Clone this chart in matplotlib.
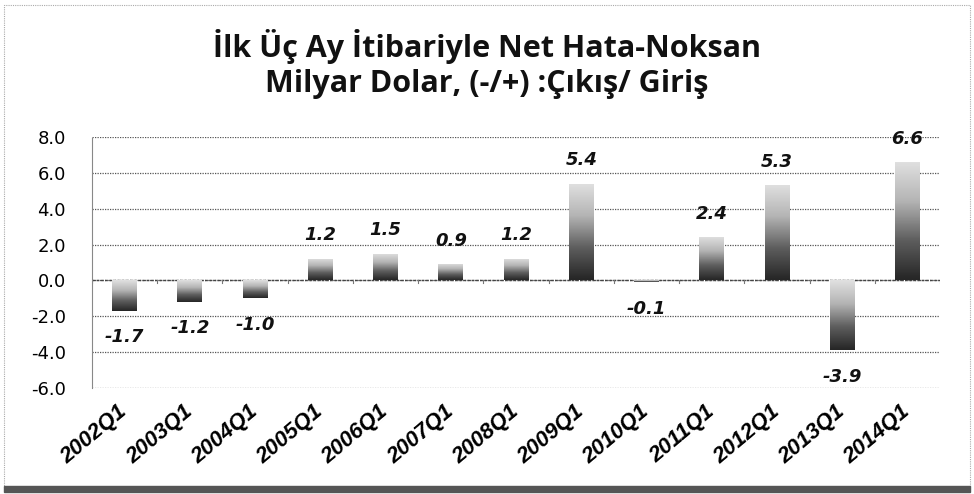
import numpy as np
import matplotlib.pyplot as plt
from matplotlib.colors import LinearSegmentedColormap

quarters = ["2002Q1", "2003Q1", "2004Q1", "2005Q1", "2006Q1", "2007Q1", "2008Q1",
            "2009Q1", "2010Q1", "2011Q1", "2012Q1", "2013Q1", "2014Q1"]
net_errors = [-1.7, -1.2, -1.0, 1.2, 1.5, 0.9, 1.2, 5.4, -0.1, 2.4, 5.3, -3.9, 6.6]
yticks = [8.0, 6.0, 4.0, 2.0, 0.0, -2.0, -4.0, -6.0]

title = "İlk Üç Ay İtibariyle Net Hata-Noksan\nMilyar Dolar, (-/+) :Çıkış/ Giriş"

fig = plt.figure(figsize=(9.74, 4.94), dpi=100)
ax = fig.add_axes([0.0945, 0.2146, 0.8706, 0.508])

x = np.arange(len(quarters))
bars = ax.bar(x, net_errors, width=0.38, color="none", edgecolor="none", zorder=3)

# grey vertical gradient inside each bar: dark at the lower end, light at the top
cmap = LinearSegmentedColormap.from_list("scan", ["#262626", "#5e5e5e", "#b4b4b4", "#e0e0e0"])
grad = np.linspace(0, 1, 100).reshape(-1, 1)
for b in bars:
    x0, y0 = b.get_x(), b.get_y()
    w, h = b.get_width(), b.get_height()
    lo, hi = min(y0, y0 + h), max(y0, y0 + h)
    im = ax.imshow(grad, cmap=cmap, aspect="auto", origin="lower",
                   extent=(x0, x0 + w, lo, hi), zorder=3)
    im.set_clip_path(b)

for xi, v in zip(x, net_errors):
    off = 17 if v >= 0 else -19
    ax.annotate(f"{v:.1f}", (xi, v), xytext=(0, off), textcoords="offset points",
                ha="center", va="center", fontsize=13, fontweight="bold",
                fontstyle="oblique", family="DejaVu Sans", color="#111111", zorder=4)

ax.set_xlim(-0.5, len(quarters) - 0.5)
ax.set_ylim(-6.0, 8.0)
ax.set_yticks(yticks)
ax.set_yticklabels([f"{t:.1f}" for t in yticks], fontsize=13, family="DejaVu Sans")
ax.set_xticks(x)
ax.set_xticklabels(quarters, rotation=40, ha="right", va="center", rotation_mode="anchor",
                   fontsize=16, fontweight="bold", fontstyle="italic",
                   family=["Liberation Sans Narrow", "Liberation Sans"])
ax.tick_params(axis="x", length=0, pad=15)
ax.tick_params(axis="y", length=0, pad=19)

ax.grid(axis="y", color="#555555", linestyle=(0, (1, 1)), linewidth=0.9, zorder=1)
ax.axhline(0, color="#444444", linewidth=1.0, linestyle=(0, (2, 1)), zorder=2)
for xt in np.arange(-0.5, len(quarters), 1.0):
    ax.plot([xt, xt], [0, -0.15], color="#777777", linewidth=0.8, zorder=2)

for s in ["top", "right", "bottom"]:
    ax.spines[s].set_visible(False)
ax.spines["left"].set_color("#888888")
ax.spines["left"].set_linestyle((0, (1, 1)))

fig.text(0.5, 0.87, title, ha="center", va="center", fontsize=22,
         fontweight="bold", family="Open Sans", linespacing=1.2, color="#111111")

# dotted frame of the scanned chart and the dark band at the bottom
fig.patches.append(plt.Rectangle((0.004, 0.015), 0.992, 0.975, transform=fig.transFigure,
                                 fill=False, edgecolor="#aaaaaa", linewidth=0.8,
                                 linestyle=(0, (1, 1))))
fig.patches.append(plt.Rectangle((0.004, 0.004), 0.992, 0.012, transform=fig.transFigure,
                                 color="#555555"))

fig.savefig("out.png", dpi=100)
